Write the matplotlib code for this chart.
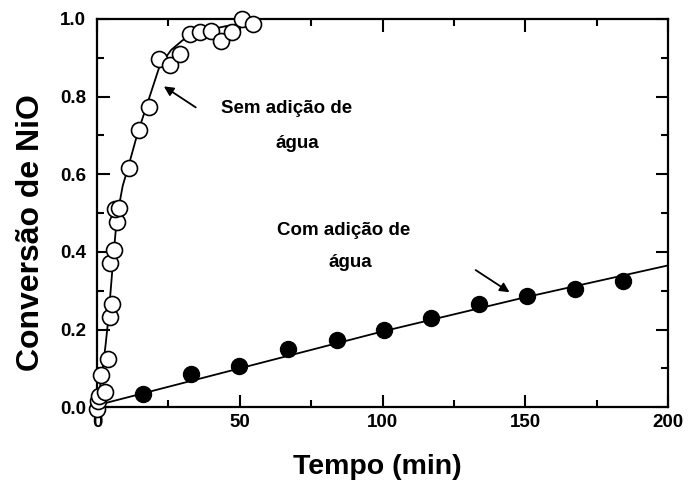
import numpy as np
import matplotlib.pyplot as plt
from matplotlib.ticker import MultipleLocator

plt.rcParams['font.family'] = ['Liberation Sans', 'DejaVu Sans']
plt.rcParams['font.weight'] = 'bold'

# Sem adição de água (círculos abertos)
t_sem = [0, 0.3, 0.7, 1.5, 2.7, 3.8, 4.4, 5.2, 4.7, 5.8, 7.0, 6.2, 7.6, 11.2,
         14.6, 18.2, 21.6, 25.4, 29.1, 32.4, 35.9, 40.0, 43.5, 47.2, 50.7, 54.5]
x_sem = [-0.005, 0.015, 0.03, 0.083, 0.04, 0.124, 0.233, 0.266, 0.37, 0.405, 0.476,
         0.51, 0.512, 0.617, 0.714, 0.774, 0.896, 0.88, 0.91, 0.961, 0.967,
         0.969, 0.942, 0.967, 0.999, 0.987]
# curva ajustada
t_sem_fit = [0, 1, 2, 3, 4, 5, 6, 7, 9, 11, 14, 18, 22, 26, 30, 35, 40, 45, 50, 55]
x_sem_fit = [0.0, 0.05, 0.1, 0.16, 0.23, 0.32, 0.41, 0.49, 0.57, 0.62, 0.70,
             0.79, 0.88, 0.92, 0.945, 0.962, 0.973, 0.981, 0.987, 0.991]

# Com adição de água (círculos cheios)
t_com = [16.1, 33.0, 49.9, 66.8, 84.0, 100.6, 117.1, 133.8, 150.5, 167.4, 184.3]
x_com = [0.033, 0.086, 0.106, 0.150, 0.173, 0.199, 0.229, 0.265, 0.287, 0.304, 0.326]
t_com_fit = [0, 50, 100, 150, 200]
x_com_fit = [0.005, 0.10, 0.195, 0.283, 0.365]

fig = plt.figure(figsize=(6.88, 4.83), dpi=100)
ax = fig.add_axes([0.141, 0.157, 0.830, 0.804])

ax.plot(t_sem_fit, x_sem_fit, color='black', lw=1.3, zorder=2)
ax.plot(t_com_fit, x_com_fit, color='black', lw=1.3, zorder=2)
ax.plot(t_sem, x_sem, 'o', ms=11.5, mfc='white', mec='black', mew=1.2, zorder=3,
        clip_on=False)
ax.plot(t_com, x_com, 'o', ms=11.5, mfc='black', mec='black', zorder=3, clip_on=False)

ax.set_xlim(0, 200)
ax.set_ylim(0, 1.0)
ax.xaxis.set_major_locator(MultipleLocator(50))
ax.xaxis.set_minor_locator(MultipleLocator(25))
ax.yaxis.set_major_locator(MultipleLocator(0.2))
ax.yaxis.set_minor_locator(MultipleLocator(0.1))
ax.yaxis.set_major_formatter(plt.FormatStrFormatter('%.1f'))
ax.tick_params(which='both', direction='in', top=True, right=True, width=1.5)
ax.tick_params(which='major', length=9, labelsize=13.5, pad=8)
ax.tick_params(axis='x', which='major', pad=5)
ax.tick_params(which='minor', length=5)
for s in ax.spines.values():
    s.set_linewidth(1.6)

ax.set_xlabel('Tempo (min)', fontsize=20.5, fontweight='bold')
ax.set_ylabel('Conversão de NiO', fontsize=23, fontweight='bold')
ax.xaxis.set_label_coords(0.49, -0.12)
ax.yaxis.set_label_coords(-0.09, 0.45)

ax.text(43.5, 0.768, 'Sem adição de', fontsize=13.5, fontweight='bold', ha='left', va='center')
ax.text(62.5, 0.68, 'água', fontsize=13.5, fontweight='bold', ha='left', va='center')
ax.text(63, 0.455, 'Com adição de', fontsize=13.5, fontweight='bold', ha='left', va='center')
ax.text(81, 0.372, 'água', fontsize=13.5, fontweight='bold', ha='left', va='center')

ax.annotate('', xy=(22.6, 0.83), xytext=(35.4, 0.768),
            arrowprops=dict(arrowstyle='-|>', color='black', lw=1.3, mutation_scale=14))
ax.annotate('', xy=(145.3, 0.292), xytext=(131.8, 0.357),
            arrowprops=dict(arrowstyle='-|>', color='black', lw=1.3, mutation_scale=14))

fig.savefig('out.png', dpi=100)
